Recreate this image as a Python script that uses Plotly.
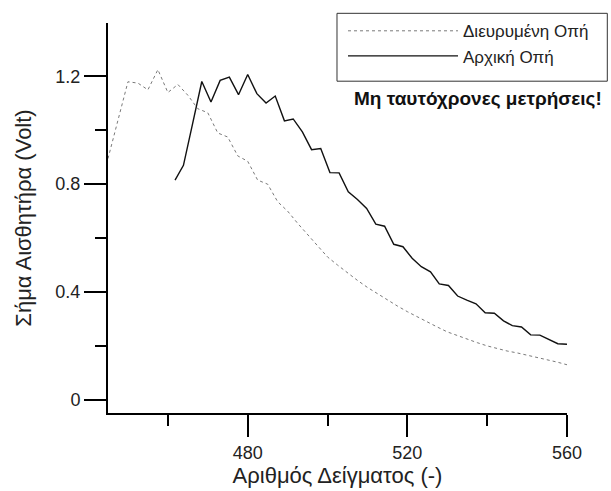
import plotly.graph_objects as go

# Διευρυμένη Οπή (dashed)
x_wide = [445, 447.5, 450, 452.5, 455, 457.5, 460, 462.5, 465, 467.5, 470, 472.5, 475,
          477.5, 480, 482.5, 485, 487.5, 490, 492.5, 495, 497.5, 500, 502.5, 505, 507.5,
          510, 512.5, 515, 517.5, 520, 522.5, 525, 527.5, 530, 532.5, 535, 537.5, 540,
          542.5, 545, 547.5, 550, 552.5, 555, 557.5, 560]
y_wide = [0.895, 1.04, 1.18, 1.175, 1.15, 1.225, 1.14, 1.17, 1.13, 1.08, 1.065, 0.99, 0.975,
          0.905, 0.885, 0.815, 0.80, 0.735, 0.70, 0.655, 0.612, 0.57, 0.53, 0.50, 0.47, 0.443,
          0.417, 0.393, 0.37, 0.348, 0.327, 0.307, 0.288, 0.27, 0.252, 0.238, 0.225, 0.212, 0.20,
          0.19, 0.181, 0.174, 0.166, 0.158, 0.150, 0.140, 0.130]

# Αρχική Οπή (solid)
x_orig = [461.8, 463.9, 466.2, 468.5, 470.8, 473.1, 475.4, 477.7, 480.0, 482.3, 484.6, 486.9,
          489.2, 491.4, 493.7, 496.0, 498.3, 500.6, 502.9, 505.2, 507.5, 509.8, 512.1, 514.3,
          516.6, 518.9, 521.2, 523.5, 525.8, 528.0, 530.3, 532.6, 534.9, 537.2, 539.5, 541.8,
          544.1, 546.3, 548.6, 550.9, 553.2, 555.4, 557.7, 560.0]
y_orig = [0.815, 0.87, 1.025, 1.181, 1.105, 1.185, 1.197, 1.132, 1.207, 1.136, 1.101, 1.127,
          1.035, 1.042, 0.994, 0.928, 0.932, 0.843, 0.842, 0.772, 0.743, 0.710, 0.652, 0.644,
          0.577, 0.568, 0.525, 0.494, 0.475, 0.430, 0.424, 0.385, 0.370, 0.356, 0.323, 0.321,
          0.293, 0.275, 0.270, 0.241, 0.240, 0.224, 0.208, 0.206]

x_ticks = [480, 520, 560]
x_minor = [460, 500, 540]
y_ticks = [0, 0.4, 0.8, 1.2]
y_labels = ["0", "0.4", "0.8", "1.2"]
y_minor = [0.2, 0.6, 1.0]

FONT = "Liberation Sans, Arial, sans-serif"

fig = go.Figure()
fig.add_trace(go.Scatter(x=x_wide, y=y_wide, mode="lines", name="Διευρυμένη Οπή",
                         line=dict(color="#7a7a7a", width=1, dash="3px,3px")))
fig.add_trace(go.Scatter(x=x_orig, y=y_orig, mode="lines", name="Αρχική Οπή",
                         line=dict(color="#111111", width=1.4)))

fig.update_layout(
    width=611, height=491,
    margin=dict(l=108, r=44, t=23, b=78, autoexpand=False),
    paper_bgcolor="white", plot_bgcolor="white",
    font=dict(family=FONT, size=17, color="#222"),
    showlegend=True,
    legend=dict(x=0.512, y=1.025, xanchor="left", yanchor="top",
                borderwidth=0, bgcolor="rgba(0,0,0,0)",
                font=dict(size=17, color="#222"), itemwidth=110,
                tracegroupgap=0),
    xaxis=dict(range=[445, 560], showgrid=False, zeroline=False, automargin=False,
               showline=True, linecolor="black", linewidth=2,
               tickmode="array", tickvals=x_ticks, ticktext=[str(v) for v in x_ticks],
               ticks="outside", ticklen=22, tickwidth=2, tickcolor="black",
               tickfont=dict(size=18, color="#222"),
               minor=dict(tickvals=x_minor, ticks="outside", ticklen=11,
                          tickwidth=2, tickcolor="black", showgrid=False),
               title=dict(text="Αριθμός Δείγματος (-)", font=dict(size=22, color="#222"),
                          standoff=2)),
    yaxis=dict(range=[-0.049, 1.398], showgrid=False, zeroline=False, automargin=False,
               showline=True, linecolor="black", linewidth=2,
               tickmode="array", tickvals=y_ticks, ticktext=y_labels,
               ticks="outside", ticklen=22, tickwidth=2, tickcolor="black",
               tickfont=dict(size=18, color="#222"),
               minor=dict(tickvals=y_minor, ticks="outside", ticklen=11,
                          tickwidth=2, tickcolor="black", showgrid=False),
               title=dict(text="Σήμα Αισθητήρα (Volt)", font=dict(size=22, color="#222"),
                          standoff=18)),
    shapes=[dict(type="rect", xref="paper", yref="paper",
                 x0=0.4989, x1=1.0878, y0=0.8508, y1=1.0248,
                 line=dict(color="#333", width=1), fillcolor="rgba(0,0,0,0)", layer="below")],
    annotations=[dict(text="<b>Μη ταυτόχρονες μετρήσεις!</b>", xref="paper", yref="paper",
                      x=0.8065, y=0.807, xanchor="center", yanchor="middle",
                      showarrow=False, font=dict(size=19, color="#111", family=FONT))],
)

fig.write_html("out.html", config={"displayModeBar": False},
               post_script="document.body.style.margin='0';")
